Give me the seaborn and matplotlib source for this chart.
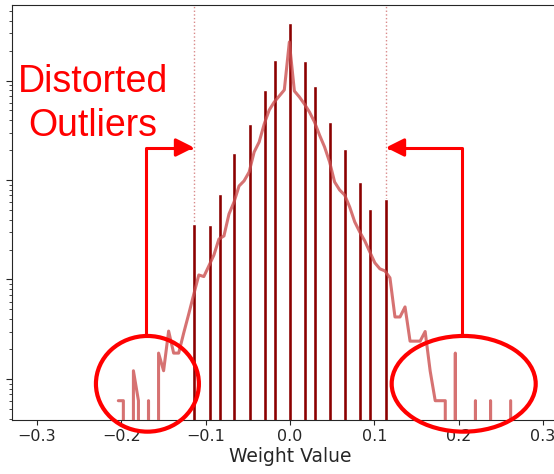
import matplotlib
matplotlib.use("Agg")
import matplotlib.pyplot as plt
import matplotlib.transforms as mtransforms
from matplotlib.patches import Ellipse
import numpy as np
import seaborn as sns

sns.set_style("ticks")

# quantized weights (bars), density
bar_pos = [-0.1138, -0.0949, -0.0830, -0.0664, -0.0474, -0.0296, -0.0178, 0.0,
           0.0178, 0.0296, 0.0474, 0.0652, 0.0830, 0.0949, 0.1138]
bar_density = [3.6, 3.5, 7.2, 18.7, 36.5, 80.4, 161, 378,
               157, 88.1, 38.3, 20.5, 9.6, 5.1, 6.4]

# original (full precision) weights, histogram line, density per bin
line_first_bin = -0.2036
line_last_bin = 0.2617
line_density = [0.0605, 0.0605, 0, 0.121, 0.0605, 0, 0.0605, 0, 0.182, 0.121,
                0.303, 0.182, 0.182, 0.29, 0.45, 0.71, 1.11, 1.07, 1.37, 1.76,
                2.55, 2.74, 4.55, 6.0, 8.7, 9.8, 12.0, 19.1, 24.1, 36.5,
                50.5, 60.8, 69.9, 80.4, 244, 78.4, 68.3, 58.0, 48.2, 38.3,
                28.3, 21.5, 15.2, 9.55, 7.93, 7.06, 5.35, 3.79, 3.0, 2.44,
                1.89, 1.47, 1.28, 1.22, 1.04, 0.42, 0.42, 0.53, 0.24, 0.24,
                0.24, 0.30, 0.12, 0.0605, 0.0605, 0.0605, 0, 0.182, 0, 0,
                0, 0.0605, 0, 0, 0.0605, 0, 0, 0, 0.0605]
line_x = np.linspace(line_first_bin, line_last_bin, len(line_density))

x_ticks = [-0.3, -0.2, -0.1, 0.0, 0.1, 0.2, 0.3]

fig = plt.figure(figsize=(5.54, 4.74), dpi=100)
ax = fig.add_axes([12 / 554, 54 / 474, 556 / 554, 415 / 474])

# clipping thresholds (dotted)
for xc in (bar_pos[0], bar_pos[-1]):
    ax.axvline(xc, color="#d98a8a", ls=":", lw=1.0, zorder=0)

sns.barplot(x=bar_pos, y=bar_density, native_scale=True, orient="x", width=0.42,
            color="darkred", saturation=1, errorbar=None, ax=ax, zorder=2)
sns.lineplot(x=line_x, y=line_density, sort=False, estimator=None,
             color="#cc4f4f", alpha=0.8, lw=2.2, ax=ax, zorder=3)

ax.set_yscale("log")
ax.set_ylim(0.0387, 574)
ax.set_xlim(-0.3297, 0.3297)
ax.set_xticks(x_ticks)
ax.set_xticklabels([f"{t:.1f}".replace("-", "\u2212") for t in x_ticks], fontsize=11.5)
ax.tick_params(axis="y", which="both", labelleft=False)
ax.tick_params(axis="y", which="major", length=4)
ax.tick_params(axis="y", which="minor", length=2)
ax.tick_params(axis="x", length=3.5, pad=3)
ax.set_xlabel("Weight Value", fontsize=13.5, labelpad=2)
ax.set_ylabel("")

# annotation overlay
red = "#ff0000"
blend = mtransforms.blended_transform_factory(ax.transData, ax.transAxes)
for cx, w, elbow_x, tip_x in [(-0.1691, 0.1221, -0.1711, bar_pos[0]),
                              (0.2060, 0.1708, 0.2043, bar_pos[-1])]:
    ax.add_patch(Ellipse((cx, 0.0872), w, 0.2306, transform=blend, fill=False,
                         ec=red, lw=3, clip_on=False, zorder=5))
    ax.annotate("", xy=(tip_x, 0.6566), xycoords=blend,
                xytext=(elbow_x, 0.2024), textcoords=blend,
                arrowprops=dict(arrowstyle="-|>,head_length=1.1,head_width=0.55",
                                color=red, lw=2.2, shrinkA=0, shrinkB=0,
                                connectionstyle="angle,angleA=90,angleB=0,rad=0"),
                zorder=5)

ax.text(-0.2342, 0.762, "Distorted\nOutliers", transform=blend, color=red,
        fontsize=27, family="Liberation Sans", ha="center", va="center",
        linespacing=1.3, zorder=5)

plt.savefig("out.png", dpi=100)
